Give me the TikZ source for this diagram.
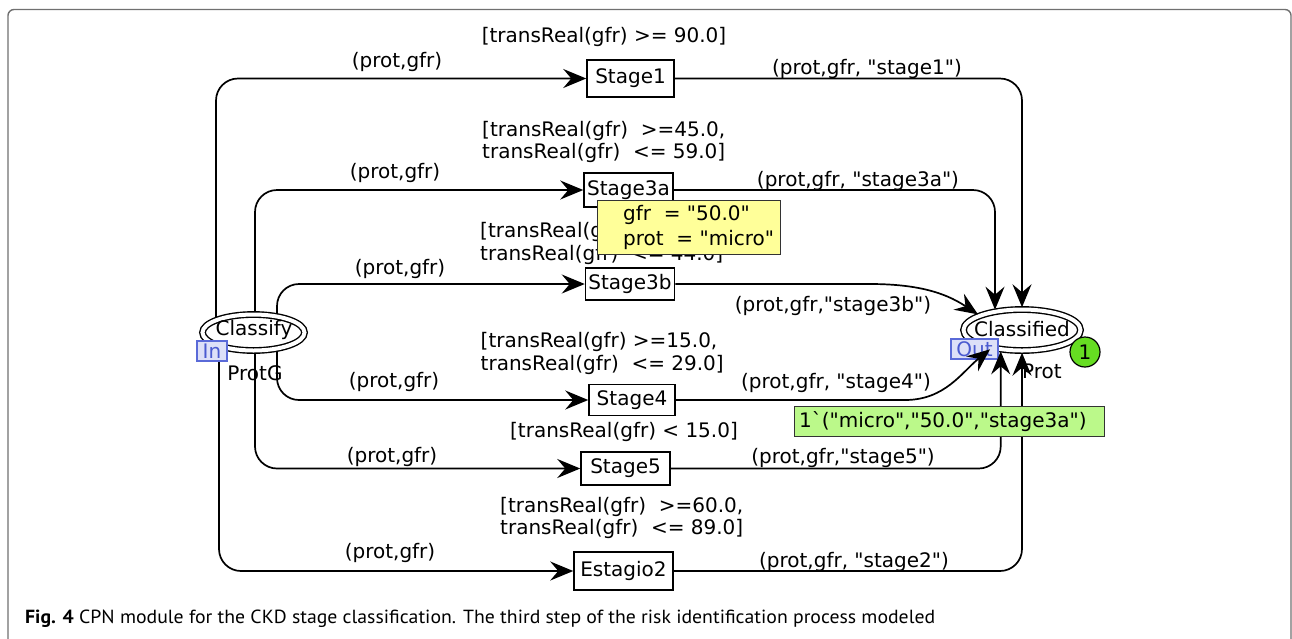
\documentclass[tikz,border=0pt]{standalone}
\usepackage{fontspec}
\newfontfamily\cpnfont{DejaVu Sans}
\newfontfamily\capfont{PT Sans}
\usetikzlibrary{arrows.meta,calc,backgrounds,shapes.geometric}
\definecolor{framec}{HTML}{707070}
\definecolor{bindyellow}{HTML}{FFFF99}
\definecolor{markgreen}{HTML}{BBF98A}
\definecolor{tokgreen}{HTML}{66DD22}
\definecolor{tagfill}{HTML}{DDE0F8}
\definecolor{tagdraw}{HTML}{5A6AD8}
\definecolor{tagtext}{HTML}{4A5AD0}
\begin{document}
\begin{tikzpicture}[x=1pt,y=-1pt,
  every node/.style={font=\cpnfont\fontsize{20}{22.4}\selectfont, inner sep=0pt},
  trans/.style={draw, line width=1.5pt, fill=white},
  place/.style={draw, ellipse, line width=1.4pt, double, double distance=4pt, fill=white},
  cpnarc/.style={line width=1.7pt, rounded corners=22pt, -{Stealth[length=23pt,width=19pt,inset=8pt]}},
  lbl/.style={anchor=base},
  guard/.style={anchor=north west, align=left},
  tag/.style={draw=tagdraw, fill=tagfill, text=tagtext, line width=1.2pt}
]
\useasboundingbox (0,0) rectangle (1292,638);
% frame
\draw[framec, line width=1.4pt, rounded corners=6pt] (8,660) -- (8,9.5) -- (1291,9.5) -- (1291,660);

% places
\node[place, minimum width=102pt, minimum height=36pt] (cls) at (253.5,332.5) {};
\node[place, minimum width=117pt, minimum height=41pt] (cld) at (1022,330) {};
\node[lbl] (clsT) at (254,335) {Classify};
\node[lbl] (cldT) at (1022,336) {Classified};

% transitions
\node[trans, minimum width=87pt, minimum height=37pt] (st1) at (630.5,78.5) {Stage1};
\node[trans, minimum width=89pt, minimum height=34pt] (st3a) at (628.5,190) {Stage3a};
\node[trans, minimum width=89pt, minimum height=32pt] (st3b) at (630,284) {Stage3b};
\node[trans, minimum width=86pt, minimum height=31pt] (st4) at (632,400) {Stage4};
\node[trans, minimum width=89pt, minimum height=33pt] (st5) at (625.5,468.5) {Stage5};
\node[trans, minimum width=99pt, minimum height=38pt] (est) at (623.5,571) {Estagio2};

% input arcs
\begin{scope}[on background layer]
\draw[cpnarc] ($(cls.center)+(-37.5,0)$) |- (st1.west);
\draw[cpnarc] ($(cls.center)+(1.5,0)$) |- (st3a.west);
\draw[cpnarc] ($(cls.center)+(23.5,0)$) |- (st3b.west);
\draw[cpnarc] ($(cls.center)+(23.5,0)$) |- (st4.west);
\draw[cpnarc] ($(cls.center)+(1.5,0)$) |- (st5.west);
\draw[cpnarc] ($(cls.center)+(-34.5,0)$) |- (est.west);
\end{scope}

% port tags
\node[tag, minimum width=30pt, minimum height=20pt] (inTag) at (212,351) {In};
\node[tag, minimum width=47pt, minimum height=20pt] (outTag) at (974.5,349) {Out};

% output arcs
\draw[cpnarc] (st1.east) -| ($(cld.center)+(0,-22.7)$);
\draw[cpnarc] (st3a.east) -| ($(cld.center)+(-27,-20.3)$);
\draw[cpnarc, rounded corners=0pt] (st3b.east) -- (870,284) .. controls (925,284) and (950,296) .. ($(cld.center)+(-44,-15.6)$);
\draw[cpnarc, rounded corners=0pt] (st4.east) -- (905,400) .. controls (945,400) and (962,372) .. ($(cld.center)+(-32,19.3)$);
\draw[cpnarc] (st5.east) -| ($(cld.center)+(-21.3,21.3)$);
\draw[cpnarc] (est.east) -| ($(cld.center)+(0,22.7)$);

% place info
\node[lbl] (protG) at (255,380) {ProtG};
\node[anchor=base west] (protT) at (1022,378) {Prot};
\node[circle, draw, fill=tokgreen, line width=1.2pt, minimum size=30pt] (tok) at (1085,352) {1};

% input arc labels
\node[lbl] (l1) at (397,67) {(prot,gfr)};
\node[lbl] (l2) at (395,178) {(prot,gfr)};
\node[lbl] (l3) at (400,274) {(prot,gfr)};
\node[lbl] (l4) at (394,387) {(prot,gfr)};
\node[lbl] (l5) at (392,462) {(prot,gfr)};
\node[lbl] (l6) at (390,558) {(prot,gfr)};

% output arc labels
\node[lbl] (o1) at (867,74) {(prot,gfr, "stage1")};
\node[lbl] (o2) at (858,186) {(prot,gfr, "stage3a")};
\node[lbl] (o3) at (833,311) {(prot,gfr,"stage3b")};
\node[lbl] (o4) at (836,388) {(prot,gfr, "stage4")};
\node[lbl] (o5) at (843,463) {(prot,gfr,"stage5")};
\node[lbl] (o6) at (854,567) {(prot,gfr, "stage2")};

% guards
\node[lbl] (g1) at (604,42) {[transReal(gfr) >= 90.0]};
\node[guard] (g3a) at (482,120.8) {[transReal(gfr)~ >=45.0,\\transReal(gfr)~ <= 59.0]};
\node[guard] (g3b) at (480,222.5) {[transReal(gfr)~ >=30.0,\\transReal(gfr)~ <= 44.0]};
\node[guard] (g4) at (480.5,332.5) {[transReal(gfr) >=15.0,\\transReal(gfr)~ <= 29.0]};
\node[lbl] (g5) at (624,437) {[transReal(gfr) < 15.0]};
\node[guard] (g2) at (500,496.8) {[transReal(gfr)~ >=60.0,\\transReal(gfr)~ <= 89.0]};

% binding and marking
\node[draw=black!80, fill=bindyellow, line width=1pt, anchor=north west, minimum width=183pt, minimum height=54pt] (bind) at (597,199.5) {};
\node[anchor=base west] (b1) at (623,220) {gfr~ = "50.0"};
\node[anchor=base west] (b2) at (623,245) {prot~ = "micro"};
\node[draw=black!80, fill=markgreen, line width=1pt, anchor=north west, minimum width=310pt, minimum height=30pt] (mark) at (794,406) {};
\node[anchor=base west] (m1) at (799,427) {1`("micro","50.0","stage3a")};

% caption
\node[anchor=base west, font=\capfont\fontsize{19}{22}\selectfont] (cap) at (25,623.5) {\resizebox{910pt}{\height}{\textbf{Fig. 4} CPN module for the CKD stage classification. The third step of the risk identification process modeled}};
\end{tikzpicture}
\end{document}
